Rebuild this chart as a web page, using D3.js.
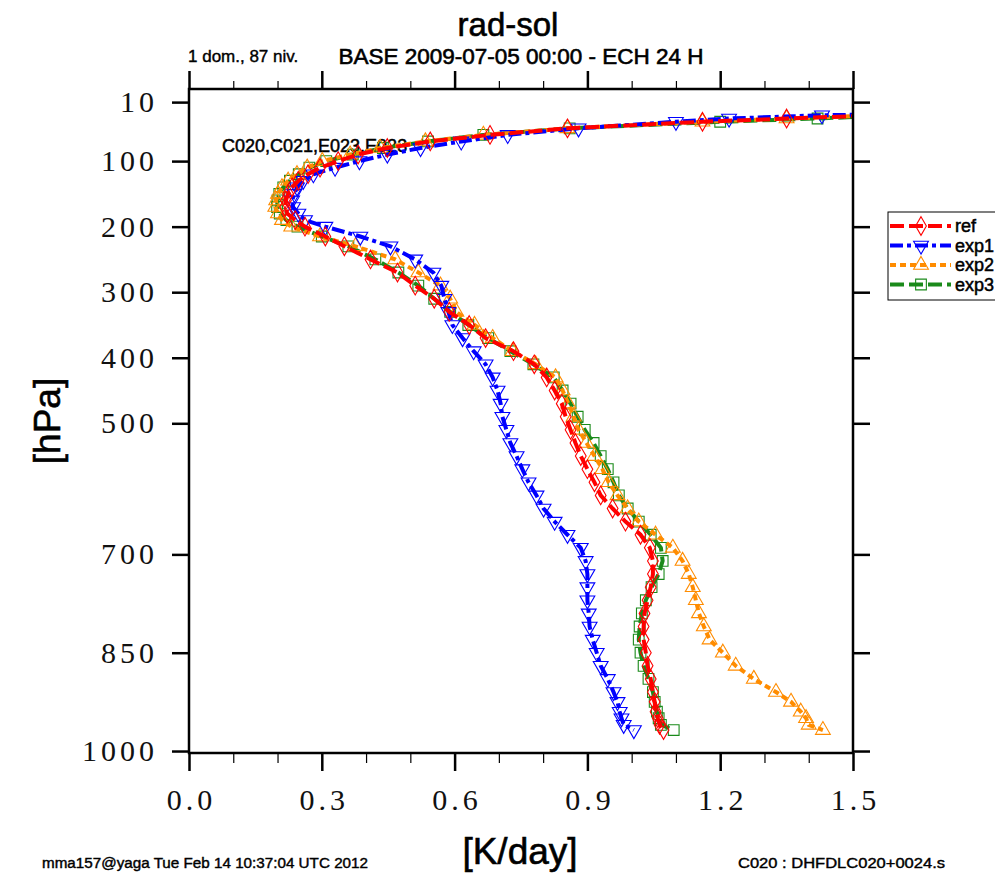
<html>
  <head>
    <script src="https://cdnjs.cloudflare.com/ajax/libs/d3/7.9.0/d3.min.js"></script>
    <style>
      body { margin: 0; background: #fff; }
      .heavy { stroke: #000; stroke-width: 0.6px; }
    </style>
  </head>
  <body onload="main()">
  </body>
  <script>
    // pressure levels (hPa) and heating rates (K/day)
    const levels = [20, 25, 30, 35, 40, 50, 60, 70, 80, 90, 100, 110, 120, 130, 140, 150, 160, 170, 180, 190,
      200, 215, 230, 250, 270, 290, 310, 330, 350, 370, 390, 410, 430, 450, 470, 490, 510, 530, 550, 570,
      590, 610, 630, 650, 670, 690, 710, 730, 750, 770, 790, 810, 830, 850, 870, 890, 910, 925, 940, 950,
      960, 968]
    const ref = [2.6, 2.1, 1.56, 1.35, 1.16, 0.855, 0.68, 0.545, 0.448, 0.382, 0.337, 0.296, 0.269, 0.247, 0.233,
      0.224, 0.219, 0.217, 0.222, 0.240, 0.262, 0.308, 0.351, 0.41, 0.471, 0.511, 0.554, 0.588, 0.633, 0.670,
      0.733, 0.78, 0.808, 0.826, 0.842, 0.851, 0.862, 0.873, 0.885, 0.9, 0.916, 0.93, 0.957, 0.986, 1.02,
      1.041, 1.048, 1.048, 1.043, 1.036, 1.029, 1.027, 1.027, 1.032, 1.036, 1.043, 1.048, 1.052, 1.054, 1.059,
      1.063, 1.072]
    const exp1 = [2.5, 2.0, 1.43, 1.22, 1.10, 0.88, 0.72, 0.615, 0.523, 0.448, 0.385, 0.33, 0.281, 0.258, 0.244,
      0.238, 0.233, 0.235, 0.247, 0.262, 0.308, 0.387, 0.455, 0.511, 0.552, 0.570, 0.577, 0.586, 0.595, 0.618,
      0.643, 0.670, 0.686, 0.697, 0.704, 0.708, 0.717, 0.726, 0.74, 0.753, 0.767, 0.785, 0.801, 0.826, 0.855,
      0.885, 0.896, 0.9, 0.9, 0.9, 0.903, 0.905, 0.912, 0.921, 0.93, 0.946, 0.959, 0.968, 0.973, 0.977,
      0.982, 1.005]
    const exp2 = [2.6, 2.1, 1.57, 1.35, 1.16, 0.855, 0.665, 0.534, 0.432, 0.364, 0.301, 0.267, 0.244, 0.224, 0.21,
      0.201, 0.197, 0.195, 0.201, 0.21, 0.231, 0.296, 0.376, 0.466, 0.518, 0.568, 0.59, 0.604, 0.645, 0.686,
      0.731, 0.783, 0.828, 0.844, 0.857, 0.869, 0.88, 0.898, 0.916, 0.934, 0.948, 0.968, 0.991, 1.016, 1.054,
      1.093, 1.115, 1.129, 1.138, 1.145, 1.152, 1.163, 1.176, 1.206, 1.235, 1.276, 1.326, 1.36, 1.382, 1.394,
      1.4, 1.432]
    const exp3 = [2.7, 2.2, 1.6, 1.42, 1.2, 0.86, 0.665, 0.54, 0.438, 0.37, 0.31, 0.272, 0.248, 0.228, 0.213,
      0.204, 0.2, 0.199, 0.205, 0.22, 0.245, 0.3, 0.36, 0.421, 0.473, 0.518, 0.554, 0.59, 0.631, 0.676,
      0.726, 0.778, 0.824, 0.844, 0.862, 0.878, 0.894, 0.914, 0.93, 0.946, 0.959, 0.971, 0.991, 1.016, 1.043,
      1.066, 1.07, 1.061, 1.045, 1.032, 1.023, 1.018, 1.016, 1.02, 1.027, 1.038, 1.048, 1.052, 1.057, 1.061,
      1.066, 1.095]

    const seriesNames = ['ref', 'exp1', 'exp2', 'exp3']
    const pressureTicks = [10, 100, 200, 300, 400, 500, 700, 850, 1000]
    const rateTicks = [0.0, 0.3, 0.6, 0.9, 1.2, 1.5]

    function main() {
      const width = 995
      const height = 875
      const svg = d3.select('body')
        .append('svg')
        .attr('width', width)
        .attr('height', height)
        .style('font-family', 'Liberation Sans, Arial, sans-serif')

      const x = d3.scaleLinear().domain([0, 1.5]).range([189, 853])
      const y = d3.scaleLinear().domain([-10, 1003]).range([89, 753])

      const styles = {
        ref: { color: '#ff0000', dash: '14,5', symbol: d3.symbolDiamond, size: 100, rotate: 0 },
        exp1: { color: '#0000ff', dash: '13,4,4,4', symbol: d3.symbolTriangle, size: 95, rotate: 180 },
        exp2: { color: '#ff8c00', dash: '6,4', symbol: d3.symbolTriangle, size: 95, rotate: 0 },
        exp3: { color: '#1a8a1a', dash: '14,5', symbol: d3.symbolSquare, size: 115, rotate: 0 }
      }
      const values = { ref, exp1, exp2, exp3 }

      svg.append('clipPath')
        .attr('id', 'plot-clip')
        .append('rect')
        .attr('x', x.range()[0])
        .attr('y', y.range()[0])
        .attr('width', x.range()[1] - x.range()[0])
        .attr('height', y.range()[1] - y.range()[0])

      // titles
      svg.append('text')
        .attr('class', 'heavy')
        .attr('x', 508).attr('y', 36)
        .attr('text-anchor', 'middle')
        .style('font-size', '33px')
        .text('rad-sol')
      svg.append('text')
        .attr('class', 'heavy')
        .attr('x', 521).attr('y', 64)
        .attr('text-anchor', 'middle')
        .style('font-size', '22.5px')
        .text('BASE 2009-07-05 00:00 - ECH 24 H')
      svg.append('text')
        .attr('class', 'heavy')
        .attr('x', 188).attr('y', 62)
        .style('font-size', '17px')
        .style('stroke-width', '0.4px')
        .text('1 dom., 87 niv.')

      // curves
      const plot = svg.append('g').attr('clip-path', 'url(#plot-clip)')
      plot.append('text')
        .attr('class', 'heavy')
        .attr('x', 222).attr('y', 152)
        .style('font-size', '18px')
        .style('stroke-width', '0.5px')
        .text('C020,C021,E023,E023')

      const line = d3.line()
        .x(d => x(d.v))
        .y(d => y(d.p))

      seriesNames.slice().reverse().forEach(name => {
        const s = styles[name]
        const data = levels.map((p, i) => ({ p, v: values[name][i] }))
        plot.append('path')
          .datum(data)
          .attr('d', line)
          .attr('fill', 'none')
          .attr('stroke', s.color)
          .attr('stroke-width', 4)
          .attr('stroke-dasharray', s.dash)
        plot.append('g')
          .selectAll('path')
          .data(data)
          .enter()
          .append('path')
          .attr('d', d3.symbol().type(s.symbol).size(s.size))
          .attr('transform', d => `translate(${x(d.v)},${y(d.p)}) rotate(${s.rotate})`)
          .attr('fill', 'none')
          .attr('stroke', s.color)
          .attr('stroke-width', 1.1)
      })

      // axes
      const styleAxis = (g, major) => {
        g.select('.domain').remove()
        g.selectAll('line').attr('stroke-width', major ? 2.5 : 1.2)
      }
      const tickFont = g => g.selectAll('text')
        .style('font-family', 'Liberation Serif, Times New Roman, serif')
        .style('font-size', '30px')
        .style('letter-spacing', '4px')
        .attr('fill', '#111')

      svg.append('g')
        .attr('transform', `translate(${x.range()[0]},0)`)
        .call(d3.axisLeft(y).tickValues(pressureTicks).tickSize(17).tickPadding(14).tickFormat(d3.format('d')))
        .call(g => styleAxis(g, true))
        .call(tickFont)
      svg.append('g')
        .attr('transform', `translate(${x.range()[1]},0)`)
        .call(d3.axisRight(y).tickValues(pressureTicks).tickSize(17).tickFormat(''))
        .call(g => styleAxis(g, true))

      const minorTicks = d3.range(0, 16).map(i => i / 10).filter(v => Math.round(v * 10) % 3 !== 0)
      svg.append('g')
        .attr('transform', `translate(0,${y.range()[1]})`)
        .call(d3.axisBottom(x).tickValues(rateTicks).tickSize(18).tickPadding(18).tickFormat(d3.format('.1f')))
        .call(g => styleAxis(g, true))
        .call(tickFont)
        .call(g => g.selectAll('text').attr('dx', '2px'))
      svg.append('g')
        .attr('transform', `translate(0,${y.range()[1]})`)
        .call(d3.axisBottom(x).tickValues(minorTicks).tickSize(10).tickFormat(''))
        .call(g => styleAxis(g, false))
      svg.append('g')
        .attr('transform', `translate(0,${y.range()[0]})`)
        .call(d3.axisTop(x).tickValues(rateTicks).tickSize(18).tickFormat(''))
        .call(g => styleAxis(g, true))
      svg.append('g')
        .attr('transform', `translate(0,${y.range()[0]})`)
        .call(d3.axisTop(x).tickValues(minorTicks).tickSize(8).tickFormat(''))
        .call(g => styleAxis(g, false))

      // frame
      svg.append('rect')
        .attr('x', x.range()[0])
        .attr('y', y.range()[0])
        .attr('width', x.range()[1] - x.range()[0])
        .attr('height', y.range()[1] - y.range()[0])
        .attr('fill', 'none')
        .attr('stroke', '#000')
        .attr('stroke-width', 2.5)

      // axis titles
      svg.append('text')
        .attr('class', 'heavy')
        .attr('transform', 'translate(47,421) rotate(-90)')
        .attr('text-anchor', 'middle')
        .attr('dy', '0.35em')
        .style('font-size', '37px')
        .text('[hPa]')
      svg.append('text')
        .attr('class', 'heavy')
        .attr('x', 520).attr('y', 864)
        .attr('text-anchor', 'middle')
        .style('font-size', '37px')
        .text('[K/day]')

      // footers
      svg.append('text')
        .attr('class', 'heavy')
        .attr('x', 42).attr('y', 868)
        .style('font-size', '14px')
        .style('stroke-width', '0.4px')
        .attr('textLength', 326)
        .attr('lengthAdjust', 'spacingAndGlyphs')
        .text('mma157@yaga Tue Feb 14 10:37:04 UTC 2012')
      svg.append('text')
        .attr('class', 'heavy')
        .attr('x', 738).attr('y', 868)
        .style('font-size', '14px')
        .style('stroke-width', '0.4px')
        .attr('textLength', 207)
        .attr('lengthAdjust', 'spacingAndGlyphs')
        .text('C020 : DHFDLC020+0024.s')

      // legend
      const legend = svg.append('g').attr('transform', 'translate(888,212)')
      legend.append('rect')
        .attr('width', 130)
        .attr('height', 88)
        .attr('fill', '#fff')
        .attr('stroke', '#000')
        .attr('stroke-width', 1)
      seriesNames.forEach((name, i) => {
        const s = styles[name]
        const ly = 14 + i * 19.5
        legend.append('line')
          .attr('x1', 2).attr('x2', 63)
          .attr('y1', ly).attr('y2', ly)
          .attr('stroke', s.color)
          .attr('stroke-width', 4)
          .attr('stroke-dasharray', s.dash)
        legend.append('path')
          .attr('d', d3.symbol().type(s.symbol).size(s.size))
          .attr('transform', `translate(33,${ly}) rotate(${s.rotate})`)
          .attr('fill', 'none')
          .attr('stroke', s.color)
          .attr('stroke-width', 1.1)
        legend.append('text')
          .attr('class', 'heavy')
          .attr('x', 67).attr('y', ly)
          .attr('dy', '0.35em')
          .style('font-size', '18px')
          .style('stroke-width', '0.5px')
          .text(name)
      })
    }
  </script>
</html>
